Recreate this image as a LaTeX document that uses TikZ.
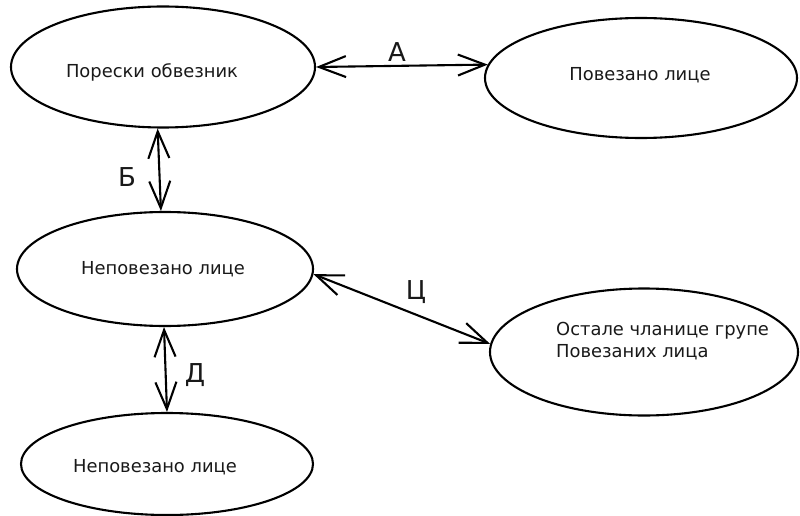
\documentclass[tikz,border=0pt]{standalone}
\usepackage{fontspec}
\setmainfont{DejaVu Sans}
\usetikzlibrary{shapes.geometric,arrows.meta}
\begin{document}
\begin{tikzpicture}[x=1pt,y=-1pt,
  oval/.style={draw=black,line width=2.1pt,ellipse,inner sep=0pt},
  txt/.style={font=\fontsize{17.9}{22}\selectfont,text=black!90,inner sep=0pt},
  lbl/.style={font=\fontsize{26}{26}\selectfont,text=black!90,inner sep=0pt},
  link/.style={line width=2.1pt,{Straight Barb[length=27pt,width=21pt]}-{Straight Barb[length=27pt,width=21pt]}}]
\useasboundingbox[fill=white] (0,0) rectangle (800,516);
\node[oval,minimum width=304pt,minimum height=121pt] (e1) at (163,67) {};
\node[oval,minimum width=312pt,minimum height=120pt] (e2) at (641,78) {};
\node[oval,minimum width=296pt,minimum height=114pt] (e3) at (165,269) {};
\node[oval,minimum width=308pt,minimum height=127pt] (e4) at (644,352) {};
\node[oval,minimum width=292pt,minimum height=102pt] (e5) at (167,464) {};
\node[txt] (t1) at (152,72) {Порески обвезник};
\node[txt] (t2) at (640,75) {Повезано лице};
\node[txt] (t3) at (163,269) {Неповезано лице};
\node[txt,align=left,anchor=west] (t4) at (556,341) {Остале чланице групе\\Повезаних лица};
\node[txt] (t5) at (155,467) {Неповезано лице};
\draw[link] (e1.0.4) -- (e2.175.5);
\draw[link] (e1.265) -- (e3.94);
\draw[link] (e3.358) -- (e4.177);
\draw[link] (e3.269) -- (e5.90);
\node[lbl] (la) at (397,52) {А};
\node[lbl] (lb) at (127,177) {Б};
\node[lbl] (lc) at (416,292) {Ц};
\node[lbl] (ld) at (195,375) {Д};
\end{tikzpicture}
\end{document}
